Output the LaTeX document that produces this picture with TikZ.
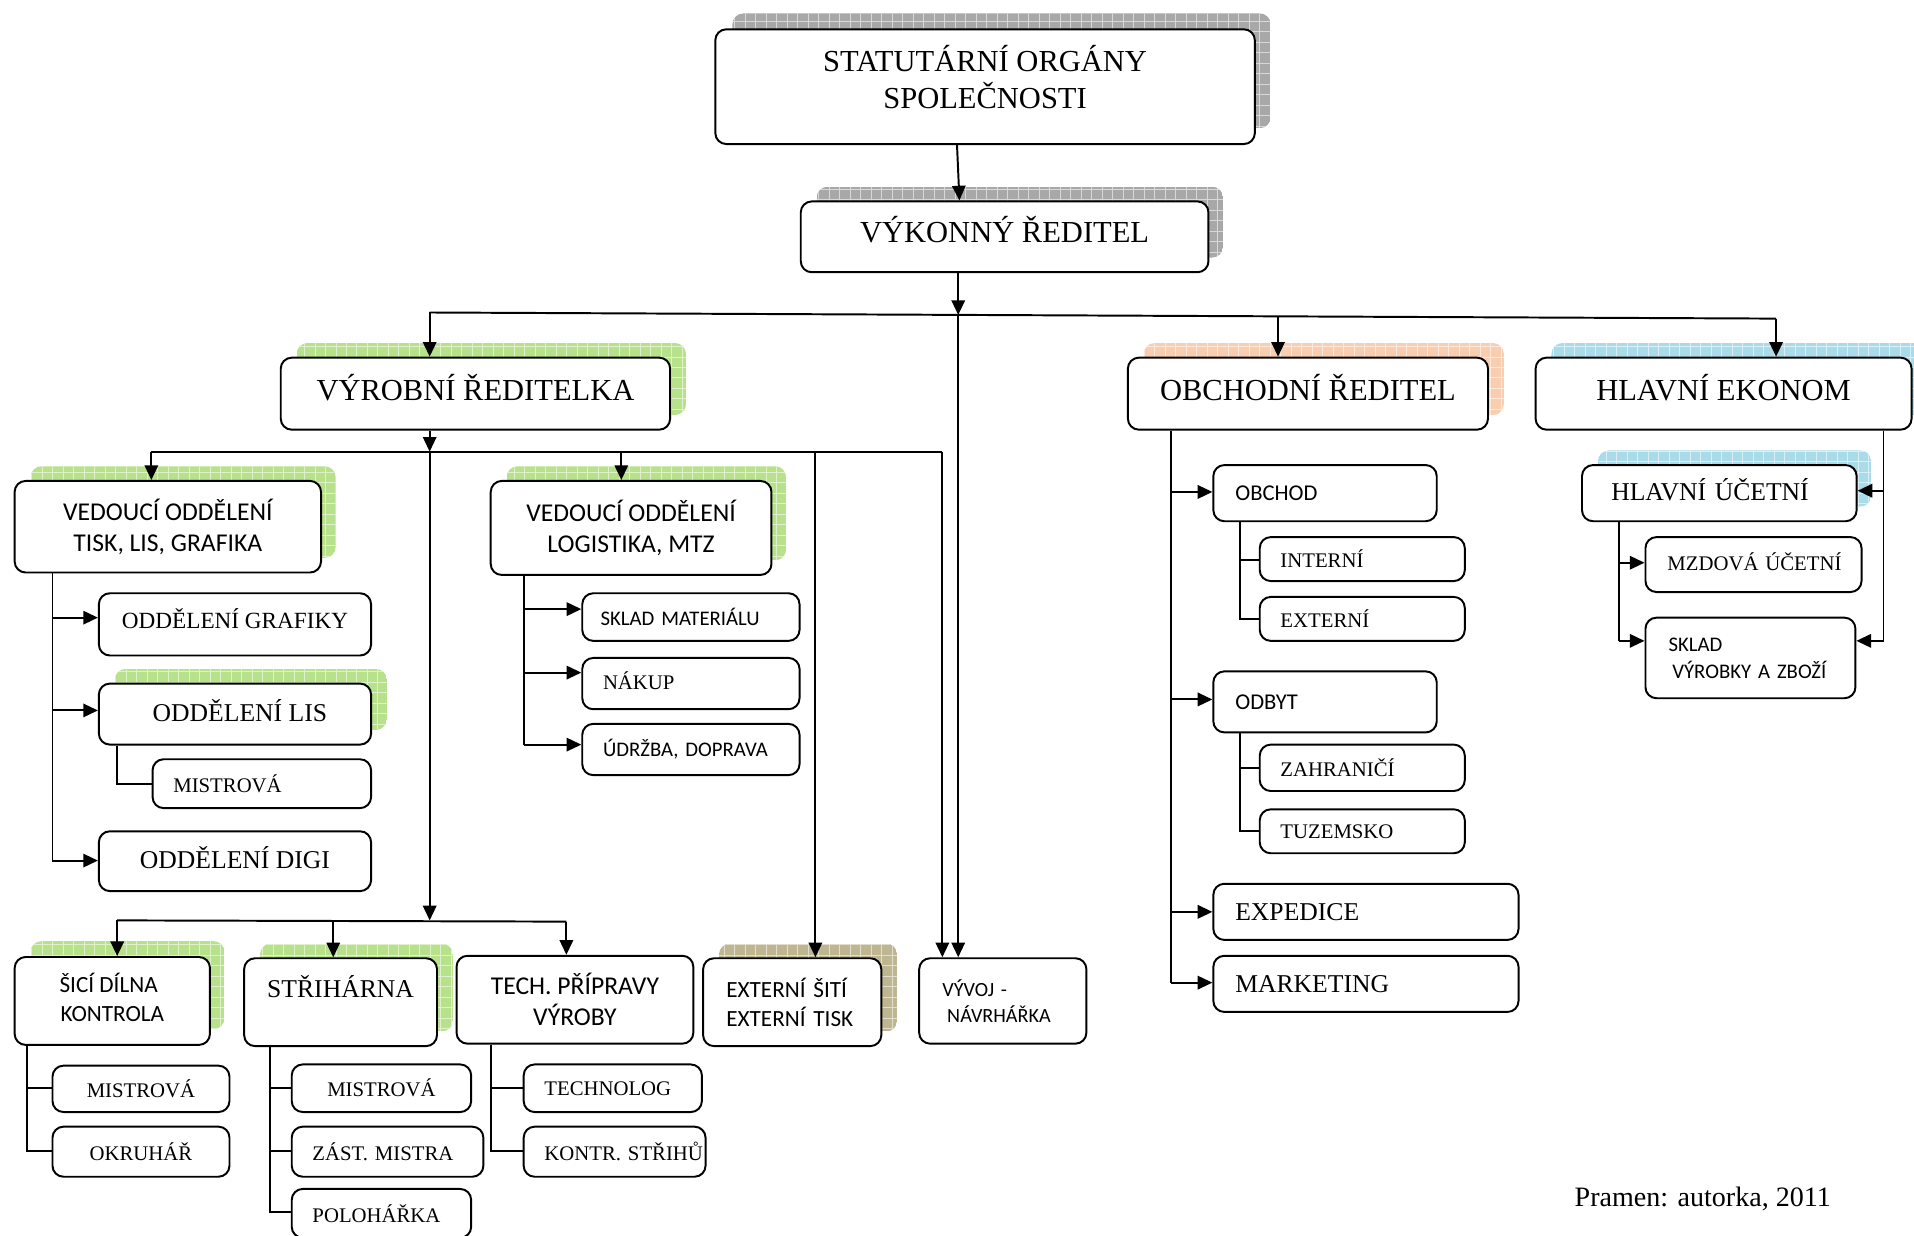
\documentclass[tikz,border=0pt]{standalone}
\usepackage{fontspec}
\setmainfont{Liberation Serif}
\newfontfamily\calfont{Carlito}
\usetikzlibrary{arrows.meta}
\definecolor{shgray}{RGB}{168,168,168}
\definecolor{shgreen}{RGB}{184,225,140}
\definecolor{shorange}{RGB}{249,205,176}
\definecolor{shblue}{RGB}{170,219,232}
\definecolor{shkhaki}{RGB}{190,182,145}
\newcommand\SerA{\fontsize{25}{30}\selectfont}
\newcommand\SerB{\fontsize{21}{25}\selectfont}
\newcommand\SerG{\fontsize{19}{23}\selectfont}
\newcommand\SerC{\fontsize{17}{21}\selectfont}
\newcommand\SerP{\fontsize{23}{27}\selectfont}
\newcommand\SanB{\calfont\fontsize{21}{25.5}\selectfont}
\newcommand\SanG{\calfont\fontsize{19}{24}\selectfont}
\newcommand\SanM{\calfont\fontsize{18.5}{22}\selectfont}
\newcommand\SanC{\calfont\fontsize{17}{22}\selectfont}
\newcommand\SanD{\calfont\fontsize{16.5}{21}\selectfont}
\newcommand\up[2]{\raisebox{#1}[\height][\depth]{#2}}
\tikzset{
  box/.style={draw, line width=1.6pt, rounded corners=9pt, fill=white, inner sep=0pt},
  arr/.style={line width=1.6pt, -{Triangle[length=12pt,width=11pt]}},
  ln/.style={line width=1.6pt},
}
% centred box: name x1 y1 x2 y2 font text
\newcommand\bc[7]{%
  \pgfmathsetmacro\bw{#4-#2}\pgfmathsetmacro\bh{#5-#3}%
  \node[box, minimum width=\bw pt, minimum height=\bh pt, align=center, font=#6]
    (#1) at ({(#2+#4)/2},{(#3+#5)/2}) {#7};}
% left aligned box: name x1 y1 x2 y2 pad font text
\newcommand\bl[8]{%
  \pgfmathsetmacro\bw{#4-#2}\pgfmathsetmacro\bh{#5-#3}%
  \node[box, minimum width=\bw pt, minimum height=\bh pt, inner xsep=0pt,
    text width=\bw pt, align=left, font=#7]
    (#1) at ({(#2+#4)/2},{(#3+#5)/2}) {\hspace*{#6pt}#8};}
% shadow: x1 y1 x2 y2 colour
\newcommand\shd[5]{%
  \begin{scope}
  \clip[rounded corners=9pt] (#1,#2) rectangle (#3,#4);
  \fill[#5] (#1,#2) rectangle (#3,#4);
  \draw[#5!45!white, line width=0.7pt] (#1,#4) grid[step=8.6pt] (#3,#2);
  \end{scope}}
\begin{document}
\begin{tikzpicture}[x=1pt,y=-1pt]
\useasboundingbox (0,0) rectangle (1568,1012);
% shadows
\shd{600}{11}{1041}{105}{shgray}
\shd{669}{153}{1002}{211}{shgray}
\shd{243}{281}{562}{340}{shgreen}
\shd{937}{281}{1232}{340}{shorange}
\shd{1271}{281}{1590}{340}{shblue}
\shd{25}{382}{275}{457}{shgreen}
\shd{415}{382}{644}{459}{shgreen}
\shd{94}{548}{317}{598}{shgreen}
\shd{25}{771}{184}{843}{shgreen}
\shd{213}{773}{371}{845}{shgreen}
\shd{589}{773}{735}{845}{shkhaki}
\shd{1309}{369}{1533}{415}{shblue}
% boxes
\bc{stat}{586}{24}{1028}{118}{\SerA}{STATUTÁRNÍ ORGÁNY\\SPOLEČNOSTI\\[-14pt]\mbox{}}
\bc{vyk}{656}{165}{990}{223}{\SerA}{\up{6pt}{VÝKONNÝ ŘEDITEL}}
\bc{vyr}{230}{293}{549}{352}{\SerA}{\up{5pt}{VÝROBNÍ ŘEDITELKA}}
\bc{obch}{924}{293}{1219}{352}{\SerA}{\up{5pt}{OBCHODNÍ ŘEDITEL}}
\bc{ekon}{1258}{293}{1566}{352}{\SerA}{\up{5pt}{HLAVNÍ EKONOM}}
\bc{tisk}{12}{394}{263}{469}{\SanB}{VEDOUCÍ ODDĚLENÍ\\TISK, LIS, GRAFIKA}
\bc{log}{402}{394}{632}{471}{\SanB}{VEDOUCÍ ODDĚLENÍ\\LOGISTIKA, MTZ}
\bc{graf}{81}{486}{304}{537}{\SerG}{\up{5pt}{ODDĚLENÍ GRAFIKY}}
\bc{lis}{81}{560}{304}{610}{\SerB}{\up{3pt}{\hspace*{8pt}ODDĚLENÍ LIS}}
\bl{mist1}{125}{622}{304}{662}{17}{\SerC}{MISTROVÁ}
\bc{digi}{81}{681}{304}{730}{\SerB}{\up{3pt}{ODDĚLENÍ DIGI}}
\bl{sklad}{477}{486}{655}{525}{15}{\SanC}{SKLAD MATERIÁLU}
\bl{nakup}{477}{539}{655}{581}{17}{\SerC}{\up{2pt}{NÁKUP}}
\bl{udrz}{477}{593}{655}{635}{17}{\SanC}{ÚDRŽBA, DOPRAVA}
\bc{sici}{12}{784}{172}{856}{\SanG}{ŠICÍ DÍLNA\hspace*{6pt}\\KONTROLA\hspace*{8pt}\\[-18pt]\mbox{}}
\bc{strih}{200}{785}{358}{857}{\SerB}{STŘIHÁRNA\\\mbox{}}
\bc{tech}{374}{783}{568}{855}{\SanB}{TECH. PŘÍPRAVY\\VÝROBY}
\bl{ext}{576}{785}{722}{857}{19}{\SanG}{EXTERNÍ ŠITÍ\\\hspace*{19pt}EXTERNÍ TISK}
\bl{vyvoj}{753}{785}{890}{855}{19}{\SanD}{VÝVOJ -\\\hspace*{23pt}NÁVRHÁŘKA}
\bc{mist2}{43}{873}{188}{911}{\SerC}{MISTROVÁ}
\bc{okru}{43}{923}{188}{964}{\SerC}{OKRUHÁŘ}
\bc{mist3}{239}{872}{386}{911}{\SerC}{MISTROVÁ}
\bl{zast}{239}{923}{396}{964}{17}{\SerC}{ZÁST. MISTRA}
\bl{polo}{239}{974}{386}{1014}{17}{\SerC}{POLOHÁŘKA}
\bl{technolog}{429}{872}{575}{911}{17}{\SerC}{TECHNOLOG}
\bl{kontr}{429}{923}{578}{964}{17}{\SerC}{KONTR. STŘIHŮ}
\bl{obchod}{994}{381}{1177}{427}{18}{\SanM}{OBCHOD}
\bl{intern}{1032}{440}{1200}{476}{17}{\SerC}{INTERNÍ}
\bl{extern}{1032}{489}{1200}{525}{17}{\SerC}{EXTERNÍ}
\bl{odbyt}{994}{550}{1177}{600}{18}{\SanM}{ODBYT}
\bl{zahr}{1032}{610}{1200}{648}{17}{\SerC}{ZAHRANIČÍ}
\bl{tuz}{1032}{663}{1200}{699}{17}{\SerC}{TUZEMSKO}
\bl{exped}{994}{724}{1244}{770}{18}{\SerB}{EXPEDICE}
\bl{mark}{994}{783}{1244}{829}{18}{\SerB}{MARKETING}
\bl{hucet}{1296}{381}{1521}{427}{24}{\SerB}{\up{3pt}{HLAVNÍ ÚČETNÍ}}
\bl{mzd}{1348}{440}{1525}{485}{18}{\SerC}{\up{2pt}{MZDOVÁ ÚČETNÍ}}
\bl{skladv}{1348}{506}{1520}{572}{19}{\SanC}{SKLAD\\\hspace*{22pt}VÝROBKY A ZBOŽÍ}
\node[font=\SerP] (src) at (1395,982) {Pramen: autorka, 2011};
% top connectors
\draw[arr] (784,0 |- stat.south) -- (786,0 |- vyk.north);
\coordinate (jA) at (785,258);
\coordinate (hL) at (352,256);
\coordinate (hR) at (1455,261);
\coordinate (jO) at (1047,259.5);
\draw[ln] (hL) -- (hR);
\draw[arr] (785,0 |- vyk.south) -- (jA);
\draw[arr] (hL) -- (352,0 |- vyr.north);
\draw[arr] (jO) -- (1047,0 |- obch.north);
\draw[arr] (hR) -- (1455,0 |- ekon.north);
\draw[arr] (jA) -- (785,0 |- vyvoj.north);
% production
\coordinate (jV) at (352,370);
\coordinate (vL) at (124,370);
\coordinate (vR) at (772,370);
\coordinate (jL) at (509,370);
\coordinate (jE) at (668,370);
\draw[arr] (352,0 |- vyr.south) -- (jV);
\draw[ln] (vL) -- (vR);
\draw[arr] (vL) -- (124,0 |- tisk.north);
\draw[arr] (jL) -- (509,0 |- log.north);
\draw[arr] (jE) -- (668,0 |- ext.north);
\draw[arr] (vR) -- (772,0 |- vyvoj.north);
\coordinate (jB) at (352,754);
\coordinate (bL) at (96,754);
\coordinate (bR) at (464,755);
\coordinate (bM) at (273,754.5);
\draw[arr] (jV) -- (jB);
\draw[ln] (bL) -- (bR);
\draw[arr] (bL) -- (96,0 |- sici.north);
\draw[arr] (bM) -- (273,0 |- strih.north);
\draw[arr] (bR) -- (464,0 |- tech.north);
% tisk branch
\draw[ln] (43,0 |- tisk.south) -- (43,705);
\draw[arr] (43,506) -- (graf.west |- 0,506);
\draw[arr] (43,582) -- (lis.west |- 0,582);
\draw[arr] (43,705) -- (digi.west |- 0,705);
\draw[ln] (96,0 |- lis.south) -- (96,642) -- (mist1.west |- 0,642);
% logistika branch
\draw[ln] (429,0 |- log.south) -- (429,610);
\draw[arr] (429,499) -- (sklad.west |- 0,499);
\draw[arr] (429,551) -- (nakup.west |- 0,551);
\draw[arr] (429,610) -- (udrz.west |- 0,610);
% bottom sub-branches
\draw[ln] (22,0 |- sici.south) -- (22,943) -- (okru.west |- 0,943);
\draw[ln] (22,891) -- (mist2.west |- 0,891);
\draw[ln] (221,0 |- strih.south) -- (221,993) -- (polo.west |- 0,993);
\draw[ln] (221,891) -- (mist3.west |- 0,891);
\draw[ln] (221,943) -- (zast.west |- 0,943);
\draw[ln] (402,0 |- tech.south) -- (402,943) -- (kontr.west |- 0,943);
\draw[ln] (402,891) -- (technolog.west |- 0,891);
% obchod branch
\draw[ln] (959,0 |- obch.south) -- (959,805);
\draw[arr] (959,403) -- (obchod.west |- 0,403);
\draw[arr] (959,573) -- (odbyt.west |- 0,573);
\draw[arr] (959,747) -- (exped.west |- 0,747);
\draw[arr] (959,805) -- (mark.west |- 0,805);
\draw[ln] (1016,0 |- obchod.south) -- (1016,507) -- (extern.west |- 0,507);
\draw[ln] (1016,459) -- (intern.west |- 0,459);
\draw[ln] (1016,0 |- odbyt.south) -- (1016,681) -- (tuz.west |- 0,681);
\draw[ln] (1016,629) -- (zahr.west |- 0,629);
% ekonom branch
\draw[ln] (1543,0 |- ekon.south) -- (1543,525);
\draw[arr] (1543,402) -- (hucet.east |- 0,402);
\draw[arr] (1543,525) -- (skladv.east |- 0,525);
\draw[ln] (1326,0 |- hucet.south) -- (1326,525);
\draw[arr] (1326,461) -- (mzd.west |- 0,461);
\draw[arr] (1326,525) -- (skladv.west |- 0,525);
\end{tikzpicture}
\end{document}
